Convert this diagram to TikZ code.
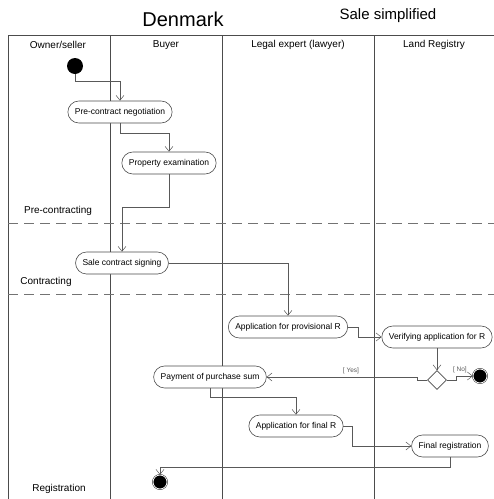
\documentclass[tikz,border=0pt]{standalone}
\usepackage{fontspec}
\setmainfont{Liberation Sans}
\usetikzlibrary{arrows.meta}
\usetikzlibrary{shapes.geometric}

\begin{document}
\begin{tikzpicture}[x=1pt,y=-1pt,
 act/.style={draw=black!70, line width=0.6pt, fill=white, rounded corners=11pt, minimum height=22pt, inner xsep=7pt, font=\fontsize{8.5}{10}\selectfont},
 flow/.style={black!65, line width=0.5pt, ->, >={Straight Barb[length=5pt,width=8pt]}},
 lane/.style={black!70, line width=1pt},
 phase/.style={font=\fontsize{10}{12}\selectfont},
 guard/.style={font=\fontsize{6.5}{7}\selectfont},
 startnode/.style={circle, fill=black, minimum size=16pt, inner sep=0},
 endnode/.style={circle, fill=black, draw=black, double=white, double distance=0.8pt, minimum size=14pt, inner sep=0}]
\useasboundingbox (0,0) rectangle (494,499);
% lanes
\draw[lane] (8,499) -- (8,35) -- (494,35);
\foreach \x in {110,222,374} {
 \draw[lane] (\x,35) -- (\x,499);
}
\foreach \y in {223,294} {
 \draw[black!55, line width=1pt, dash pattern=on 10pt off 6pt] (8,\y) -- (494,\y);
}
\node (denmark) at (183,19) {\fontsize{20}{24}\selectfont Denmark};
\node (simplified) at (388,16) {\fontsize{15}{18}\selectfont Sale simplified};
\foreach \x/\t [count=\i] in {58/{Owner/seller},166/Buyer,298/{Legal expert (lawyer)},434/Land Registry} {
 \node[phase] (head\i) at (\x,45) {\t};
}
\node[phase] (precontr) at (58,211) {Pre-contracting};
\node[phase] (contr) at (46,282) {Contracting};
\node[phase] (registr) at (59,489) {Registration};

% activities
\node[startnode] (start) at (75,66) {};
\node[act] (negot) at (120,112) {Pre-contract negotiation};
\node[act] (exam) at (169,163) {Property examination};
\node[act] (signing) at (122,263) {Sale contract signing};
\node[act] (provR) at (288,327) {Application for provisional R};
\node[act] (verify) at (437,337) {Verifying application for R};
\node[diamond, draw=black!70, line width=0.6pt, fill=white, minimum size=19pt, inner sep=0] (decide) at (437,380) {};
\node[endnode] (endno) at (480,376) {};
\node[act] (payment) at (210,377) {Payment of purchase sum};
\node[act] (finalR) at (296,426) {Application for final R};
\node[act] (finalreg) at (450,446) {Final registration};
\node[endnode] (endok) at (160,482) {};

% flows
\draw[flow] (start.south) -- ++(0,7) -| (negot.north);
\draw[flow] (negot.south) -- ++(0,10) -| (exam.north);
\draw[flow] (exam.south) -- ++(0,33) -| (signing.north);
\draw[flow] (signing.east) -| (provR.north);
\draw[flow] (provR.east) -- ++(10,0) |- (verify.west);
\draw[flow] (verify.south) -- (decide.north);
\draw[flow] (decide.west) -- ++(-10,0) |- (payment.east) node[guard, pos=0.72, above] {[ Yes]};
\draw[flow] (decide.east) -- ++(9,0) |- (endno.west) node[guard, pos=0.62, above] {[ No]};
\draw[flow] (payment.south) -- ++(0,9) -| (finalR.north);
\draw[flow] (finalR.east) -- ++(9,0) |- (finalreg.west);
\draw[flow] (finalreg.south) -- ++(0,10) -| (endok.north);
\end{tikzpicture}
\end{document}
